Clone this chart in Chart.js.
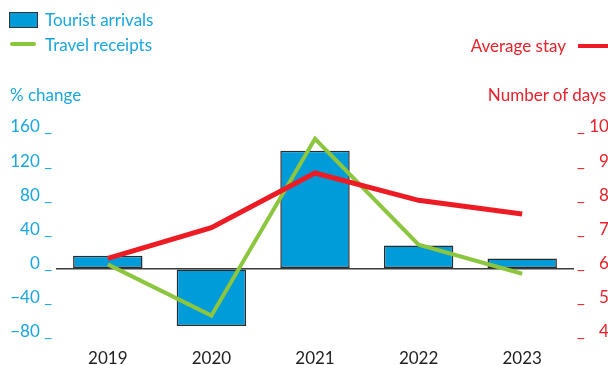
<!DOCTYPE html>
<html>
<head>
<meta charset="utf-8">
<script src="https://cdn.jsdelivr.net/npm/chart.js@4"></script>
<style>
  body { margin: 0; background: #fff; font-family: Lato, "Open Sans", sans-serif; }
  #wrap { position: relative; width: 608px; height: 365px; }
  #wrap canvas { position: absolute; left: 0; top: 0; }
  .lbl { position: absolute; font-size: 17px; line-height: 20px; white-space: nowrap; }
  .blue { color: #1aa6e0; }
  .red { color: #e8212b; }
  .swatch { position: absolute; }
</style>
</head>
<body>
<div id="wrap">
  <canvas id="chart" width="608" height="365"></canvas>
  <div class="swatch" style="left:9px;top:12px;width:27px;height:14px;background:#009bd9;border:1px solid #333;"></div>
  <div class="lbl blue" style="left:45px;top:10px;">Tourist arrivals</div>
  <div class="swatch" style="left:10px;top:42px;width:26px;height:4px;background:#8cc63e;border-radius:2px;"></div>
  <div class="lbl blue" style="left:45px;top:35px;">Travel receipts</div>
  <div class="lbl blue" style="left:10px;top:85px;">% change</div>
  <div class="lbl red" style="right:42px;top:36px;">Average stay</div>
  <div class="swatch" style="left:578px;top:44px;width:30px;height:4px;background:#ed1c24;"></div>
  <div class="lbl red" style="right:2px;top:85px;">Number of days</div>
</div>
<script>
const years = ["2019", "2020", "2021", "2022", "2023"];
const touristArrivals = [15, -67, 138, 27, 12];   // % change
const travelReceipts = [5, -55, 152, 28, -6];     // % change
const averageStay = [6.3, 7.2, 8.8, 8.0, 7.6];    // days

const leftTicks = [-80, -40, 0, 40, 80, 120, 160];
const rightTicks = [4, 5, 6, 7, 8, 9, 10];

const blue = "#1aa6e0";
const red = "#e8212b";

function fmtLeft(v) {
  return (v < 0 ? "\u2212" + Math.abs(v) : String(v)) + " _";
}
function fmtRight(v) {
  return "_ " + (v < 10 ? "\u2007" : "") + v;
}

const ctx = document.getElementById("chart").getContext("2d");
const chart = new Chart(ctx, {
  type: "bar",
  data: {
    labels: years,
    datasets: [
      {
        label: "Tourist arrivals",
        data: touristArrivals,
        backgroundColor: "#009bd9",
        borderColor: "#2b2b2b",
        borderWidth: 1.5,
        borderSkipped: false,
        barPercentage: 0.67,
        categoryPercentage: 1,
        yAxisID: "y",
        order: 3,
      },
      {
        type: "line",
        label: "Travel receipts",
        data: travelReceipts,
        borderColor: "#8cc63e",
        borderWidth: 4,
        pointRadius: 0,
        tension: 0,
        fill: false,
        yAxisID: "y",
        order: 2,
      },
      {
        type: "line",
        label: "Average stay",
        data: averageStay,
        borderColor: "#ed1c24",
        borderWidth: 5,
        pointRadius: 0,
        tension: 0,
        fill: false,
        yAxisID: "y1",
        order: 1,
      },
    ],
  },
  options: {
    responsive: false,
    animation: false,
    layout: { padding: { top: 132, left: 0, right: 0, bottom: 0 } },
    plugins: {
      legend: { display: false },
      tooltip: { enabled: false },
    },
    scales: {
      x: {
        grid: { display: false, drawTicks: false },
        border: { display: false },
        ticks: {
          color: "#222",
          font: { family: "Lato", size: 17 },
          padding: 11,
          maxRotation: 0,
        },
        afterFit: (scale) => { scale.height = 28; },
      },
      y: {
        position: "left",
        min: -80,
        max: 160,
        afterBuildTicks: (scale) => { scale.ticks = leftTicks.map((v) => ({ value: v })); },
        grid: {
          drawTicks: false,
          color: (c) => (c.tick && c.tick.value === 0 ? "#3a3a3a" : "rgba(0,0,0,0)"),
          lineWidth: 1.5,
        },
        border: { display: false },
        ticks: {
          color: blue,
          font: { family: "Lato", size: 17 },
          padding: 4,
          labelOffset: -5,
          callback: (v) => fmtLeft(v),
        },
        afterFit: (scale) => { scale.width = 56; },
      },
      y1: {
        position: "right",
        min: 4,
        max: 10,
        afterBuildTicks: (scale) => { scale.ticks = rightTicks.map((v) => ({ value: v })); },
        grid: { display: false, drawTicks: false },
        border: { display: false },
        ticks: {
          color: red,
          font: { family: "Lato", size: 17 },
          padding: 3,
          labelOffset: -5,
          callback: (v) => fmtRight(v),
        },
        afterFit: (scale) => { scale.width = 34; },
      },
    },
  },
});
</script>
</body>
</html>
